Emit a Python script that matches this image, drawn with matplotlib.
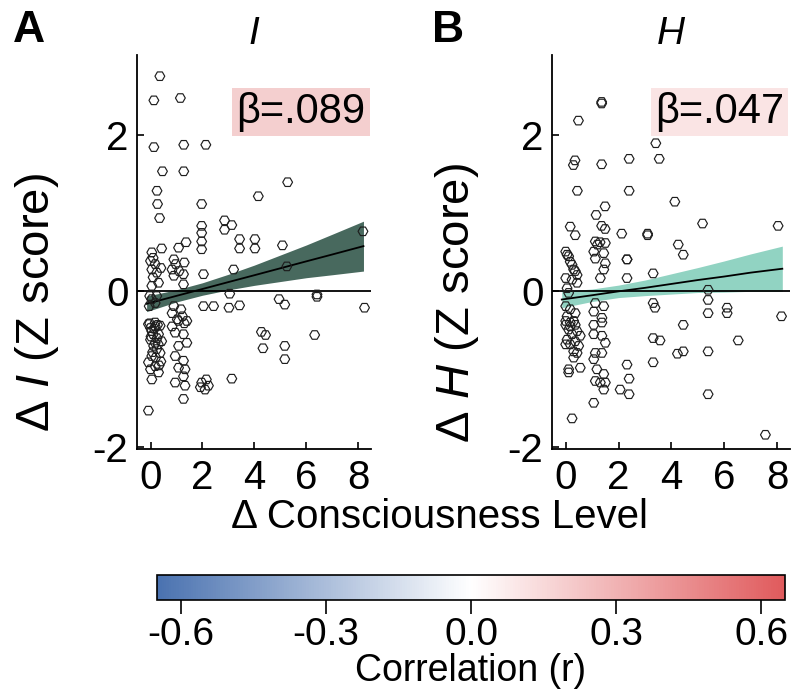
import matplotlib
matplotlib.use('Agg')
import matplotlib.pyplot as plt
from matplotlib.colors import LinearSegmentedColormap, Normalize
import matplotlib.cm as cm
import numpy as np

plt.rcParams['font.family'] = ['Liberation Sans', 'DejaVu Sans']
plt.rcParams['mathtext.fontset'] = 'custom'
plt.rcParams['mathtext.it'] = 'Liberation Sans:italic'
plt.rcParams['mathtext.rm'] = 'Liberation Sans'
plt.rcParams['axes.unicode_minus'] = False

# panel A: delta I vs delta consciousness level
a_x = [0.36, 0.13, 1.15, 0.13, 1.28, 2.13, 0.46, 1.28, 5.28, 0.25, 4.15, 0.27, 1.97,
       0.35, 2.85, 3.13, 2.85, 1.97, 1.97, 1.97, 1.97, 3.43, 4.02, 3.43, 4.02, 5.08, 8.18, 1.37, 1.08, 0.43,
       0.05, 0.10, 0.00, 0.18, 0.05, 0.24, 0.10, 0.31, 0.05, 0.40,
       0.90, 1.30, 0.97, 0.83, 1.10, 1.27, 0.90, 1.27,
       2.04, 3.20, 5.25, 3.05, 6.41, 6.41, 4.95, 5.17, 2.04, 2.43, 3.02, 3.43, 8.24,
       -0.03, 0.05, 0.24, 0.18, -0.05, -0.03, 0.18, 0.27, 0.00,
       0.90, 1.17, 0.83, 1.23, 1.03, 1.30, 0.83,
       -0.08, 0.18, 0.37, 0.05, 0.31, 0.00, 0.18, 0.43, 0.24, 0.37, 0.05, -0.08, 0.18, 0.31, 0.00, 0.05, -0.08,
       0.10, 0.25, 0.12, 0.30, 0.08, 0.20, 0.40, 0.02, 0.15, 0.33,
       1.08, 1.40, 0.95, 1.27, 1.08, 1.40, 0.95, 1.27, 1.08, 1.33, 1.27, 0.95, 1.33, 1.27,
       1.97, 2.15, 1.92, 2.23, 2.10,
       3.13, 4.27, 4.43, 6.32, 4.33, 5.17, 5.17]
a_y = [2.76, 2.45, 2.48, 1.85, 1.88, 1.88, 1.54, 1.54, 1.40, 1.29, 1.22, 1.12, 1.12,
       0.94, 0.91, 0.85, 0.79, 0.84, 0.75, 0.64, 0.54, 0.67, 0.67, 0.55, 0.55, 0.59, 0.77, 0.63, 0.56, 0.55,
       0.50, 0.43, 0.39, 0.35, 0.28, 0.24, 0.18, 0.11, 0.07, 0.30,
       0.41, 0.37, 0.35, 0.28, 0.26, 0.22, 0.20, 0.09,
       0.22, 0.28, 0.32, -0.03, -0.04, -0.07, -0.10, -0.17, -0.19, -0.19, -0.21, -0.18, -0.21,
       -0.06, -0.10, -0.06, -0.15, -0.19, -0.41, -0.45, -0.43, -0.47,
       -0.19, -0.23, -0.28, -0.32, -0.36, -0.41, -0.45,
       -0.42, -0.40, -0.44, -0.51, -0.55, -0.62, -0.66, -0.64, -0.74, -0.79, -0.83, -0.91, -0.96, -1.04, -1.00, -1.13, -1.53,
       -0.55, -0.60, -0.70, -0.68, -0.78, -0.85, -0.90, -0.58, -0.48, -0.95,
       -0.38, -0.38, -0.53, -0.55, -0.70, -0.66, -0.83, -0.89, -0.98, -1.00, -1.09, -1.17, -1.21, -1.38,
       -1.17, -1.13, -1.23, -1.21, -1.26,
       -1.12, -0.52, -0.56, -0.56, -0.73, -0.70, -0.87]

# panel B: delta H vs delta consciousness level
b_x = [1.36, 1.36, 0.48, 3.41, 0.35, 0.29, 1.36, 2.40, 3.54, 0.44, 2.40, 4.13, 1.49, 1.15,
       0.17, 1.36, 1.49, 5.18, 8.04, 2.12, 3.10, 3.10, 0.36, 1.30, 1.20, 4.26, 4.45,
       0.00, 0.05, 0.11, 0.17, 0.24, 0.30, 0.36, 0.43, 0.00, 0.24, 0.43, 0.05, 0.11,
       1.12, 1.50, 1.06, 1.44, 1.12, 1.50, 1.44, 1.31, 2.32, 2.32, 2.32, 3.31,
       0.00, 0.17, 0.36, 0.05, 0.30, 0.00, 0.17,
       1.12, 1.44, 1.06, 1.37,
       0.00, 0.17, 0.36, 0.11, 0.43, 0.24, 0.55, 0.05, 0.36, 0.17, 0.49, 0.00, 0.30, 0.43, 0.30, 0.55, 0.11, 0.11, 0.24,
       1.06, 1.37, 1.06, 1.37, 1.50, 1.12, 1.37, 1.06, 1.18, 1.44, 1.12, 1.31, 1.50, 1.44, 1.06,
       2.32, 2.40, 2.06, 2.40,
       5.39, 5.39, 5.39, 6.11, 6.11, 3.31, 3.38, 4.45, 3.31, 3.57, 4.23, 4.45, 5.39, 6.53, 8.17, 3.31, 5.39, 7.56]
b_y = [2.43, 2.41, 2.19, 1.90, 1.68, 1.62, 1.63, 1.70, 1.70, 1.29, 1.29, 1.15, 1.09, 0.98,
       0.83, 0.84, 0.80, 0.87, 0.84, 0.74, 0.74, 0.72, 0.72, 0.63, 0.60, 0.60, 0.47,
       0.51, 0.47, 0.45, 0.38, 0.34, 0.28, 0.26, 0.21, 0.17, 0.15, 0.11, 0.04, -0.02,
       0.64, 0.62, 0.51, 0.49, 0.42, 0.36, 0.28, 0.17, 0.41, 0.41, 0.17, 0.23,
       -0.19, -0.23, -0.28, -0.32, -0.38, -0.43, -0.45,
       -0.15, -0.19, -0.26, -0.34,
       -0.38, -0.40, -0.43, -0.49, -0.51, -0.55, -0.57, -0.62, -0.64, -0.68, -0.70, -0.68, -0.77, -0.79, -0.85, -0.98, -1.00, -1.04, -1.63,
       -0.43, -0.40, -0.55, -0.57, -0.66, -0.79, -0.79, -0.87, -1.00, -1.06, -1.15, -1.17, -1.17, -1.26, -1.43,
       -0.94, -1.12, -1.26, -1.32,
       0.02, -0.11, -0.28, -0.21, -0.28, -0.15, -0.21, -0.43, -0.60, -0.63, -0.80, -0.77, -0.77, -0.63, -0.32, -0.91, -1.32, -1.84]

# regression fits and 95% bands
fit_x = [-0.15, 1.0, 2.0, 3.0, 4.0, 5.0, 6.0, 7.0, 8.2]
a_fit = [-0.16, -0.058, 0.03, 0.119, 0.207, 0.296, 0.385, 0.473, 0.58]
a_lo = [-0.26, -0.136, -0.05, 0.019, 0.077, 0.126, 0.175, 0.213, 0.26]
a_hi = [-0.06, 0.020, 0.11, 0.219, 0.337, 0.466, 0.595, 0.733, 0.90]
b_fit = [-0.105, -0.05, 0.0, 0.045, 0.095, 0.145, 0.19, 0.24, 0.29]
b_lo = [-0.21, -0.13, -0.08, -0.055, -0.035, -0.015, -0.01, 0.0, 0.0]
b_hi = [0.0, 0.03, 0.08, 0.145, 0.225, 0.305, 0.39, 0.48, 0.58]

betas = ['β=.089', 'β=.047']
titles = ['I', 'H']
ylabels = ['Δ $I$ (Z score)', 'Δ $H$ (Z score)']
letters = ['A', 'B']
band_colors = ['#48695e', '#91d3c2']
box_colors = ['#f4cfcf', '#fae4e4']

cb_ticks = [-0.6, -0.3, 0.0, 0.3, 0.6]
cb_labels = ['-0.6', '-0.3', '0.0', '0.3', '0.6']

fig = plt.figure(figsize=(7.95, 6.98), dpi=100)
axA = fig.add_axes([0.172, 0.357, 0.295, 0.564])
axB = fig.add_axes([0.694, 0.357, 0.300, 0.564])

data = [(a_x, a_y, a_fit, a_lo, a_hi), (b_x, b_y, b_fit, b_lo, b_hi)]
label_x = [0.047, 0.575]
for i, ax in enumerate([axA, axB]):
    xs, ys, fit, lo, hi = data[i]
    ax.fill_between(fit_x, lo, hi, color=band_colors[i], lw=0, zorder=1)
    ax.plot(fit_x, fit, color='k', lw=1.3, zorder=3)
    ax.axhline(0, color='k', lw=1.3, zorder=2)
    ax.scatter(xs, ys, s=50, marker='H', facecolors='none', edgecolors='#1e1e1e',
               linewidths=0.85, zorder=4)
    ax.set_xlim(-0.53, 8.5)
    ax.set_ylim(-2.02, 3.03)
    ax.set_xticks([0, 2, 4, 6, 8])
    ax.set_yticks([-2, 0, 2])
    ax.tick_params(direction='in', length=5, width=1.2, labelsize=29)
    ax.tick_params(axis='x', pad=7)
    ax.tick_params(axis='y', pad=6)
    for s in ['top', 'right']:
        ax.spines[s].set_visible(False)
    for s in ['left', 'bottom']:
        ax.spines[s].set_linewidth(1.3)
    ax.set_title(titles[i], fontsize=28, style='italic', pad=8)
    fig.text(label_x[i], 0.566, ylabels[i], fontsize=34, rotation=90,
             ha='center', va='center')
    ax.text(0.975, 0.855, betas[i], transform=ax.transAxes, fontsize=30,
            ha='right', va='center', zorder=5,
            bbox=dict(boxstyle='square,pad=0.1', fc=box_colors[i], ec='none'))

fig.text(0.016, 0.957, letters[0], fontsize=32, fontweight='bold', va='center')
fig.text(0.543, 0.957, letters[1], fontsize=32, fontweight='bold', va='center')
fig.text(0.553, 0.259, 'Δ Consciousness Level', fontsize=29, ha='center', va='center')

# colorbar
cmap = LinearSegmentedColormap.from_list('corr', ['#4a72b0', '#ffffff', '#e05a5c'])
cax = fig.add_axes([0.197, 0.14, 0.791, 0.036])
sm = cm.ScalarMappable(norm=Normalize(-0.65, 0.65), cmap=cmap)
cb = fig.colorbar(sm, cax=cax, orientation='horizontal', ticks=cb_ticks)
cb.ax.set_xticklabels(cb_labels)
cb.ax.tick_params(direction='out', length=10, width=1.2, labelsize=28, pad=2)
cb.outline.set_linewidth(1.2)
cb.set_label('Correlation (r)', fontsize=27, labelpad=0)

plt.savefig('out.png', dpi=100)
